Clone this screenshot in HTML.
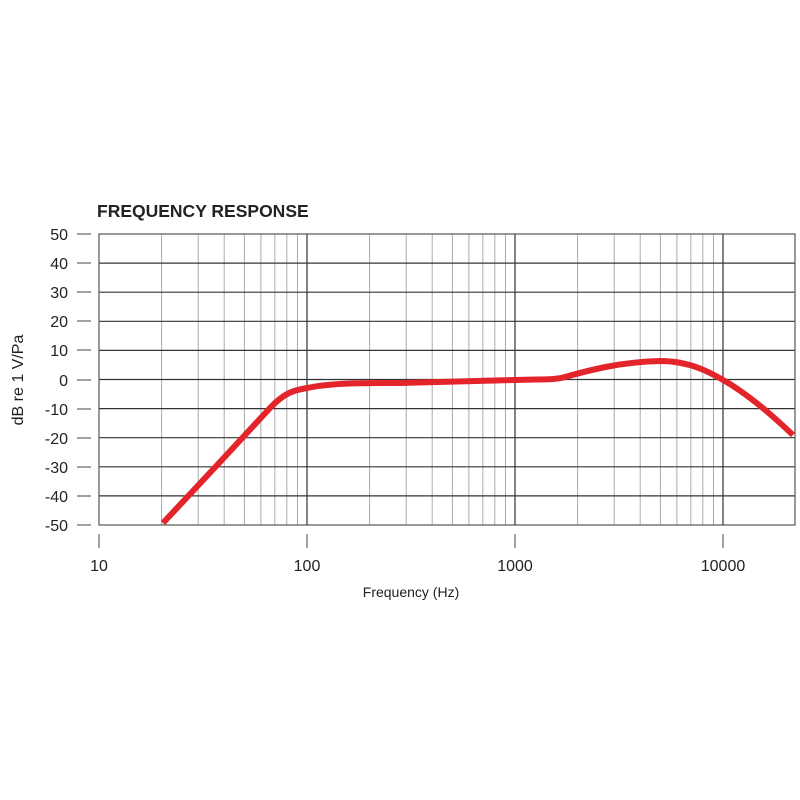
<!DOCTYPE html>
<html><head><meta charset="utf-8"><style>
html,body{margin:0;padding:0;background:#fff;width:800px;height:800px;overflow:hidden}
text{font-family:"Liberation Sans",sans-serif;fill:#222}
</style></head><body>
<svg width="800" height="800" viewBox="0 0 800 800" xmlns="http://www.w3.org/2000/svg">
<text x="97" y="217" font-size="17.5" font-weight="bold">FREQUENCY RESPONSE</text>
<g stroke="#aaa" stroke-width="1">
<line x1="161.6" y1="234" x2="161.6" y2="525"/><line x1="198.2" y1="234" x2="198.2" y2="525"/><line x1="224.2" y1="234" x2="224.2" y2="525"/><line x1="244.4" y1="234" x2="244.4" y2="525"/><line x1="260.9" y1="234" x2="260.9" y2="525"/><line x1="274.8" y1="234" x2="274.8" y2="525"/><line x1="286.8" y1="234" x2="286.8" y2="525"/><line x1="297.5" y1="234" x2="297.5" y2="525"/>
<line x1="369.6" y1="234" x2="369.6" y2="525"/><line x1="406.2" y1="234" x2="406.2" y2="525"/><line x1="432.2" y1="234" x2="432.2" y2="525"/><line x1="452.4" y1="234" x2="452.4" y2="525"/><line x1="468.9" y1="234" x2="468.9" y2="525"/><line x1="482.8" y1="234" x2="482.8" y2="525"/><line x1="494.8" y1="234" x2="494.8" y2="525"/><line x1="505.5" y1="234" x2="505.5" y2="525"/>
<line x1="577.6" y1="234" x2="577.6" y2="525"/><line x1="614.2" y1="234" x2="614.2" y2="525"/><line x1="640.2" y1="234" x2="640.2" y2="525"/><line x1="660.4" y1="234" x2="660.4" y2="525"/><line x1="676.9" y1="234" x2="676.9" y2="525"/><line x1="690.8" y1="234" x2="690.8" y2="525"/><line x1="702.8" y1="234" x2="702.8" y2="525"/><line x1="713.5" y1="234" x2="713.5" y2="525"/>
</g>
<g stroke="#333" stroke-width="1.2">
<line x1="307" y1="234" x2="307" y2="525"/><line x1="515" y1="234" x2="515" y2="525"/><line x1="723" y1="234" x2="723" y2="525"/>
<line x1="99" y1="263.1" x2="795" y2="263.1"/><line x1="99" y1="292.2" x2="795" y2="292.2"/><line x1="99" y1="321.3" x2="795" y2="321.3"/><line x1="99" y1="350.4" x2="795" y2="350.4"/><line x1="99" y1="379.5" x2="795" y2="379.5"/><line x1="99" y1="408.6" x2="795" y2="408.6"/><line x1="99" y1="437.7" x2="795" y2="437.7"/><line x1="99" y1="466.8" x2="795" y2="466.8"/><line x1="99" y1="495.9" x2="795" y2="495.9"/>
</g>
<rect x="99" y="234" width="696" height="291" fill="none" stroke="#555" stroke-width="1.2"/>
<g stroke="#444" stroke-width="1">
<line x1="77" y1="234" x2="91" y2="234"/><line x1="77" y1="263" x2="91" y2="263"/><line x1="77" y1="292" x2="91" y2="292"/><line x1="77" y1="321" x2="91" y2="321"/><line x1="77" y1="350" x2="91" y2="350"/><line x1="77" y1="380" x2="91" y2="380"/><line x1="77" y1="409" x2="91" y2="409"/><line x1="77" y1="438" x2="91" y2="438"/><line x1="77" y1="467" x2="91" y2="467"/><line x1="77" y1="496" x2="91" y2="496"/><line x1="77" y1="525" x2="91" y2="525"/>
<line x1="99" y1="534" x2="99" y2="548"/><line x1="307" y1="534" x2="307" y2="548"/><line x1="515" y1="534" x2="515" y2="548"/><line x1="723" y1="534" x2="723" y2="548"/>
</g>
<g font-size="16" text-anchor="end">
<text x="68" y="240">50</text><text x="68" y="269">40</text><text x="68" y="298">30</text><text x="68" y="327">20</text><text x="68" y="356">10</text><text x="68" y="386">0</text><text x="68" y="415">-10</text><text x="68" y="444">-20</text><text x="68" y="473">-30</text><text x="68" y="502">-40</text><text x="68" y="531">-50</text>
</g>
<g font-size="16" text-anchor="middle">
<text x="99" y="571">10</text><text x="307" y="571">100</text><text x="515" y="571">1000</text><text x="723" y="571">10000</text>
</g>
<text x="411" y="597" font-size="14" text-anchor="middle">Frequency (Hz)</text>
<text transform="translate(23,380) rotate(-90)" font-size="16" text-anchor="middle">dB re 1 V/Pa</text>
<path d="M163,523 L220,462 L270,408 C285,392 295,390 307,388 C330,383 360,383 400,383 L515,380 C545,379 555,380 565,377 C590,370 620,362 660,361 C690,361 710,372 730,384 C755,400 775,418 793,435" fill="none" stroke="#e3242b" stroke-width="6" stroke-linejoin="round"/>
</svg>
</body></html>
